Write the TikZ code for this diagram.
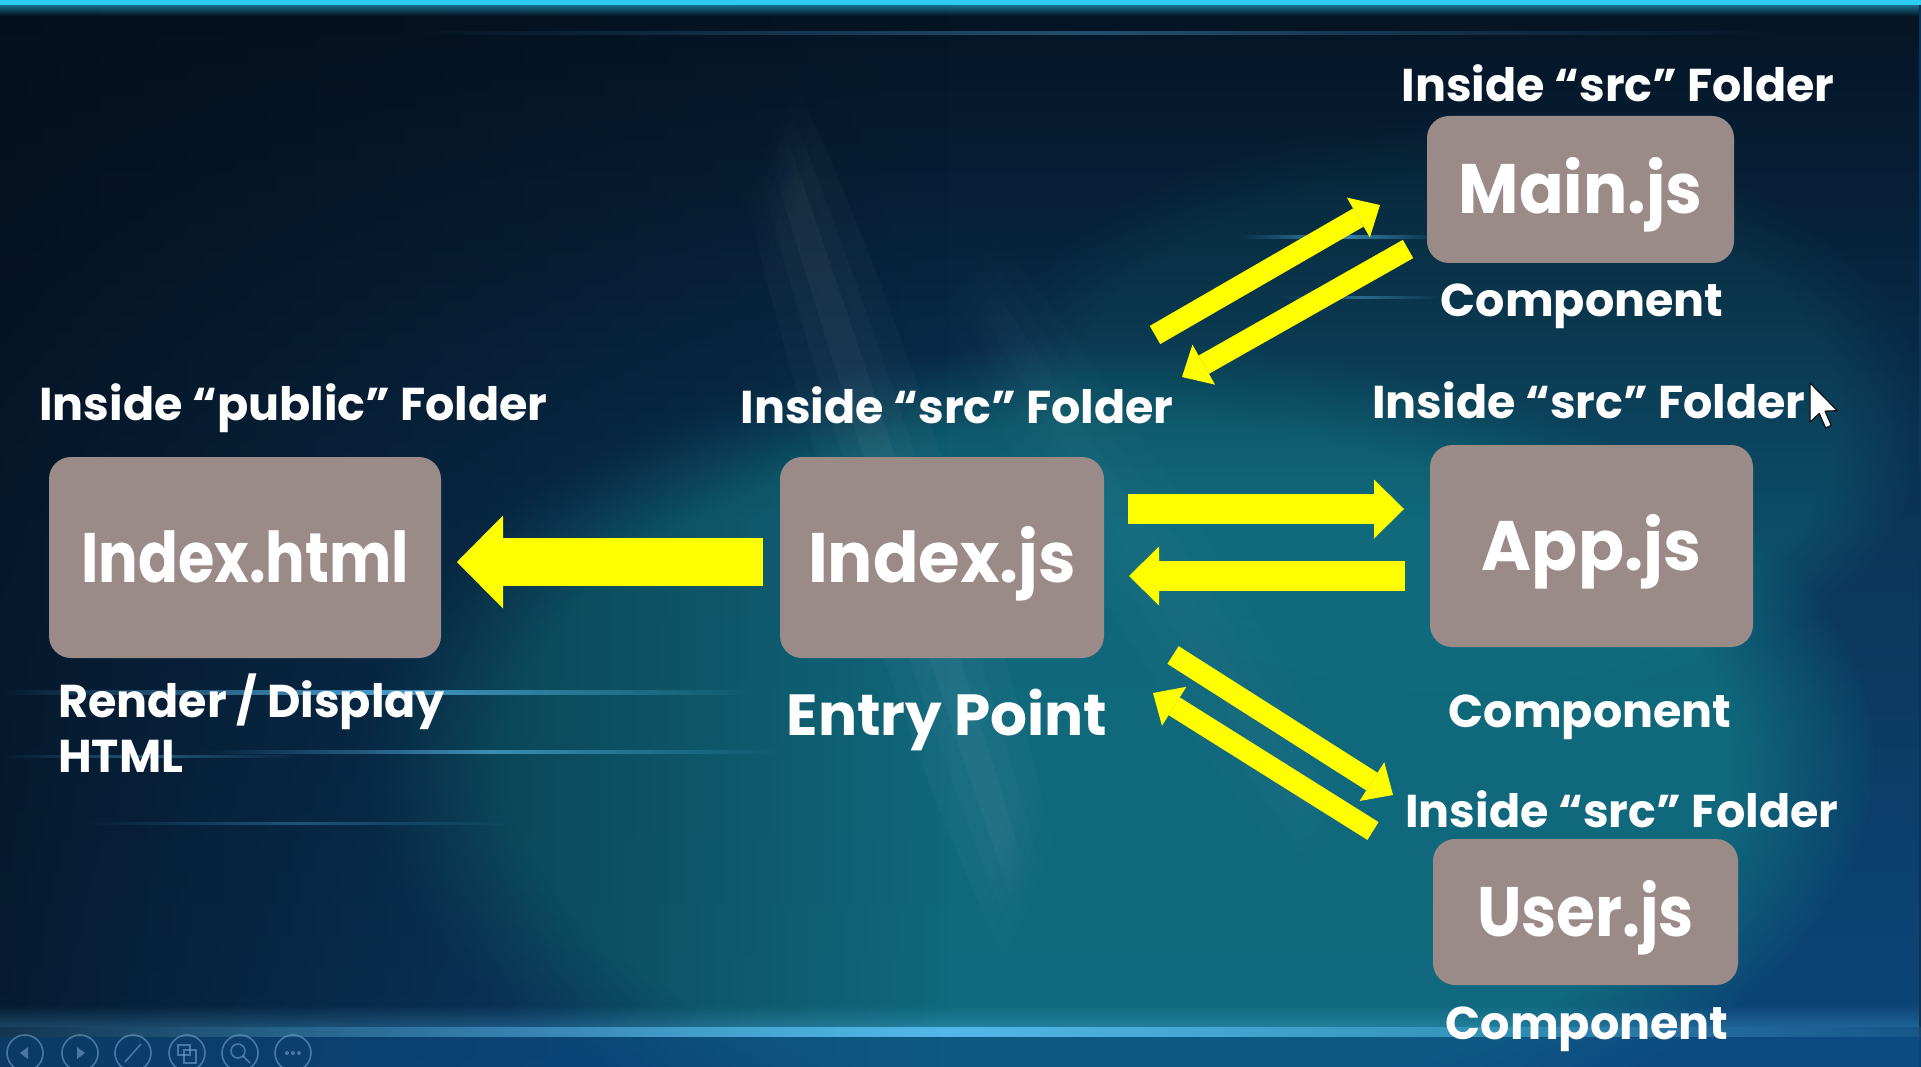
\documentclass[tikz,border=0pt]{standalone}
\usepackage{fontspec}
\setmainfont{Poppins}
\usetikzlibrary{arrows.meta,fadings}

\definecolor{bgbase}{HTML}{0B3558}
\definecolor{bgdark}{HTML}{040E1B}
\definecolor{bgteal}{HTML}{117080}
\definecolor{bgblue}{HTML}{0D4F88}
\definecolor{streak}{HTML}{5AC0F5}
\definecolor{topline}{HTML}{2CCBF2}
\definecolor{boxgray}{HTML}{9A8A88}
\definecolor{ylw}{HTML}{FFFF00}
\definecolor{iconline}{HTML}{7FA9D4}

\tikzfading[name=fadeR, left color=transparent!0, right color=transparent!100]
\tikzfading[name=fadeD, top color=transparent!0, bottom color=transparent!100]
\tikzfading[name=fadeU, top color=transparent!100, bottom color=transparent!0]
\tikzfading[name=fadeMid, left color=transparent!100, right color=transparent!100, middle color=transparent!0]

% horizontally condensed text, to keep the wide lettering within its box
\newcommand{\cond}[2]{\scalebox{#1}[1]{#2}}

\begin{document}
\begin{tikzpicture}[x=1pt,y=-1pt,
  box/.style={fill=boxgray, rounded corners=22pt, inner sep=0pt, text=white,
    font=\bfseries\fontsize{70}{70}\selectfont, text height=49pt, text depth=0pt},
  lbl/.style={text=white, inner sep=0pt, font=\bfseries\fontsize{46}{50}\selectfont},
  entry/.style={text=white, inner sep=0pt, font=\bfseries\fontsize{58}{62}\selectfont},
  bigarrow/.style={draw=ylw, line width=48pt, -{Triangle[length=46pt,width=93pt,line width=0pt]}},
  midarrow/.style={draw=ylw, line width=30pt, -{Triangle[length=30pt,width=59pt,line width=0pt]}},
  diagarrow/.style={draw=ylw, line width=21pt, -{Triangle[length=25pt,width=46pt,line width=0pt]}},
  streakline/.style={fill=streak, path fading=fadeMid},
  icon/.style={draw=iconline, line width=1.6pt, draw opacity=.55}]

\useasboundingbox (0,0) rectangle (1921,1067);

% ---------- background ----------
\fill[bgbase] (0,0) rectangle (1921,1067);
\fill[bgblue, path fading=fadeU, fill opacity=.7] (0,500) rectangle (1921,1067);
\fill[bgteal, path fading=circle with fuzzy edge 20 percent, fill opacity=.85] (1120,760) ellipse (760 and 420);
\fill[bgteal, path fading=circle with fuzzy edge 20 percent, fill opacity=.4] (1450,420) ellipse (480 and 300);
\fill[bgdark, path fading=fadeD, fill opacity=.85] (0,0) rectangle (1921,520);
\fill[bgdark, path fading=fadeR, fill opacity=.75] (0,0) rectangle (950,1067);
% soft light rays
\foreach \w/\o in {60/.025,35/.025,15/.03}{
  \begin{scope}[shift={(900,520)}, rotate=-72]
    \fill[white, fill opacity=\o, path fading=circle with fuzzy edge 20 percent] (0,0) ellipse (560 and \w);
  \end{scope}
  \begin{scope}[shift={(1150,560)}, rotate=-58]
    \fill[bgteal!60!white, fill opacity=\o, path fading=circle with fuzzy edge 20 percent] (0,0) ellipse (480 and \w);
  \end{scope}
}
% top edge
\fill[topline] (0,0) rectangle (1921,5);
\fill[topline, path fading=fadeD, fill opacity=.5] (0,5) rectangle (1921,16);
% streaks
\fill[streakline, fill opacity=.35] (400,31) rectangle (1780,35);
\fill[streakline, fill opacity=.6] (1240,235) rectangle (1440,239);
\fill[streakline, fill opacity=.4] (1280,296) rectangle (1440,299);
\fill[streakline, fill opacity=.75] (0,690) rectangle (760,695);
\fill[streakline, fill opacity=.6] (200,750) rectangle (780,754);
\fill[streakline, fill opacity=.35] (0,755) rectangle (300,758);
\fill[streakline, fill opacity=.3] (80,822) rectangle (520,825);
\fill[streakline, fill opacity=.9] (-200,1027) rectangle (2100,1037);
\fill[streak, path fading=fadeU, fill opacity=.25] (0,1005) rectangle (1921,1027);
\fill[bgblue, fill opacity=.6] (0,1037) rectangle (1921,1067);

% ---------- boxes ----------
\node[box, minimum width=392pt, minimum height=201pt] (html) at (245,557.5) {\cond{.84}{Index.html}};
\node[box, minimum width=324pt, minimum height=201pt] (index) at (942,557.5) {\cond{.96}{Index.js}};
\node[box, minimum width=307pt, minimum height=147pt] (main) at (1580.5,189.5) {\cond{.94}{Main.js}};
\node[box, minimum width=323pt, minimum height=202pt] (app) at (1591.5,546) {\cond{.97}{App.js}};
\node[box, minimum width=305pt, minimum height=146pt] (user) at (1585.5,912) {\cond{.90}{User.js}};

% ---------- labels ----------
\node[lbl, anchor=base] (mainIn) at (1618,102) {Inside “src” Folder};
\node[lbl, anchor=base] (mainComp) at (1582,316) {Component};
\node[lbl, anchor=base west] (htmlIn) at (39,420) {Inside “public” Folder};
\node[lbl, anchor=base] (indexIn) at (957,423) {Inside “src” Folder};
\node[lbl, anchor=base west] (appIn) at (1372,418) {Inside “src” Folder};
\node[lbl, anchor=base] (appComp) at (1590,727) {Component};
\node[lbl, anchor=base west] (userIn) at (1405,827) {Inside “src” Folder};
\node[lbl, anchor=base] (userComp) at (1587,1039) {Component};
\node[lbl, anchor=base west] (render) at (58,717) {Render / Display};
\node[lbl, anchor=base west] (htmltxt) at (58,772) {HTML};
\node[entry, anchor=base] (entryPt) at (947,735) {Entry Point};

% ---------- block arrows ----------
\coordinate (idxL) at (763,562);
\coordinate (htmlR) at (457,562);
\coordinate (idxR1) at (1128,509);
\coordinate (appL1) at (1404,509);
\coordinate (appL2) at (1405,576);
\coordinate (idxR2) at (1129,576);
\coordinate (idxM1) at (1155,335);
\coordinate (mainL1) at (1380,205);
\coordinate (mainL2) at (1408,249);
\coordinate (idxM2) at (1182,377);
\coordinate (idxU1) at (1173,655);
\coordinate (userL1) at (1393,795);
\coordinate (userL2) at (1373,831);
\coordinate (idxU2) at (1153,693);

\draw[bigarrow] (idxL) -- (htmlR);
\draw[midarrow] (idxR1) -- (appL1);
\draw[midarrow] (appL2) -- (idxR2);
\draw[diagarrow] (idxM1) -- (mainL1);
\draw[diagarrow] (mainL2) -- (idxM2);
\draw[diagarrow] (idxU1) -- (userL1);
\draw[diagarrow] (userL2) -- (idxU2);

% ---------- mouse pointer ----------
\begin{scope}[shift={(1810,383)}, scale=2.3]
  \filldraw[fill=white, draw=black, line width=1pt, line join=round]
    (0,0) -- (0,17) -- (4,13.2) -- (6.8,19.5) -- (9.2,18.4) -- (6.5,12.2) -- (11.8,12) -- cycle;
\end{scope}

% ---------- slide-show toolbar ----------
\foreach \cx in {25,80,133,187,240,293}
  \draw[icon] (\cx,1053) circle (18pt);
\fill[iconline, fill opacity=.55] (20,1053) -- (28,1047) -- (28,1059) -- cycle;
\fill[iconline, fill opacity=.55] (85,1053) -- (77,1047) -- (77,1059) -- cycle;
\draw[icon] (125,1062) -- (141,1044);
\draw[icon] (178,1045) rectangle (190,1055);
\draw[icon] (184,1050) rectangle (196,1063);
\draw[icon] (238,1051) circle (7pt);
\draw[icon] (243,1056) -- (250,1063);
\foreach \dx in {-6,0,6}
  \fill[iconline, fill opacity=.55] (293+\dx,1053) circle (2pt);

\end{tikzpicture}
\end{document}
